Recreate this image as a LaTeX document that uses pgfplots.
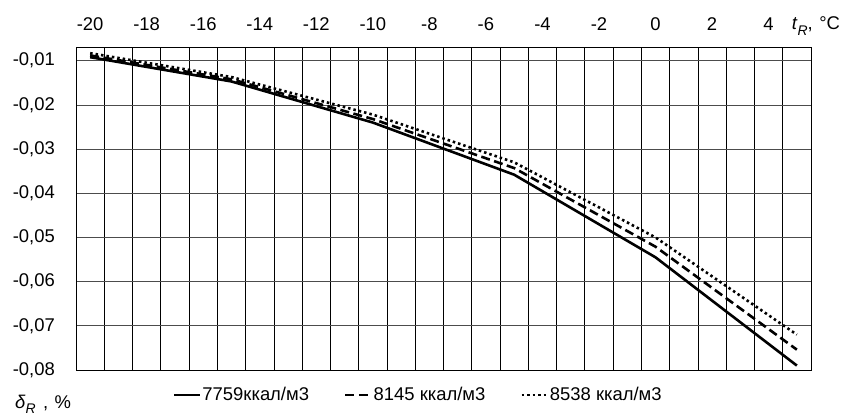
\documentclass[border=0pt]{standalone}
\usepackage{fontspec}
\setmainfont{Liberation Sans}
\usepackage{pgfplots}
\pgfplotsset{compat=1.18}
\newcommand{\chartfont}{\fontsize{18.5}{21}\selectfont}
\newcommand{\subR}{\raisebox{-0.32em}{\fontsize{14}{15}\selectfont\textit{R}}}
\begin{document}
\begin{tikzpicture}[font=\chartfont]
\useasboundingbox (0,0) rectangle (851bp,418bp);
\begin{axis}[
  at={(76bp,48bp)}, anchor=south west,
  scale only axis, width=735bp, height=323bp,
  xmin=-20.5, xmax=5.5, ymin=-0.08, ymax=-0.0069,
  scaled y ticks=false,
  xtick={-20,-18,-16,-14,-12,-10,-8,-6,-4,-2,0,2,4},
  xticklabels={-20,-18,-16,-14,-12,-10,-8,-6,-4,-2,0,2,4},
  minor xtick={-19.5,-18.5,-17.5,-16.5,-15.5,-14.5,-13.5,-12.5,-11.5,-10.5,-9.5,-8.5,-7.5,-6.5,-5.5,-4.5,-3.5,-2.5,-1.5,-0.5,0.5,1.5,2.5,3.5,4.5},
  xminorgrids,
  minor x grid style={black, line width=0.75bp},
  ytick={-0.08,-0.07,-0.06,-0.05,-0.04,-0.03,-0.02,-0.01},
  yticklabels={{-0,08},{-0,07},{-0,06},{-0,05},{-0,04},{-0,03},{-0,02},{-0,01}},
  ymajorgrids,
  major y grid style={black!70, line width=0.75bp},
  major tick length=0pt, minor tick length=0pt,
  xticklabel pos=upper,
  tick label style={font=\chartfont},
  xticklabel style={anchor=base, inner sep=0pt, yshift=17bp},
  yticklabel style={anchor=east, inner sep=0pt, xshift=-21bp},
  axis line style={black, line width=0.75bp},
  legend columns=3,
  legend style={draw=none, fill=none, at={(0.465,-0.0774)}, anchor=center,
    font=\chartfont,
    /tikz/every even column/.append style={column sep=34bp},
    nodes={inner sep=1bp}},
  legend image code/.code={\draw[#1] (0bp,0bp) -- (26bp,0bp);},
]
\addplot[black, line width=2.6bp, line join=round] coordinates {
(-20,-0.0092) (-15,-0.0147) (-10,-0.0240) (-5,-0.0358) (0,-0.0545) (5,-0.0790)};
\addlegendentry{7759ккал/м3}
\addplot[black, line width=2.6bp, line join=round, dash pattern=on 9bp off 4.5bp] coordinates {
(-20,-0.0088) (-15,-0.0142) (-10,-0.0232) (-5,-0.0343) (0,-0.0521) (5,-0.0754)};
\addlegendentry{8145 ккал/м3}
\addplot[black, line width=2.6bp, line join=round, dash pattern=on 2.5bp off 3bp] coordinates {
(-20,-0.0083) (-15,-0.0137) (-10,-0.0222) (-5,-0.0330) (0,-0.0500) (5,-0.0720)};
\addlegendentry{8538 ккал/м3}
\end{axis}
\node[anchor=base west, inner sep=0pt] at (791.7bp,388bp) {\textit{t}\subR,\hspace{0.35em}°C};
\node[anchor=base west, inner sep=0pt] at (15bp,10bp) {\textit{δ}\subR\hspace{0.4em},\hspace{0.35em}\%};
\end{tikzpicture}
\end{document}
